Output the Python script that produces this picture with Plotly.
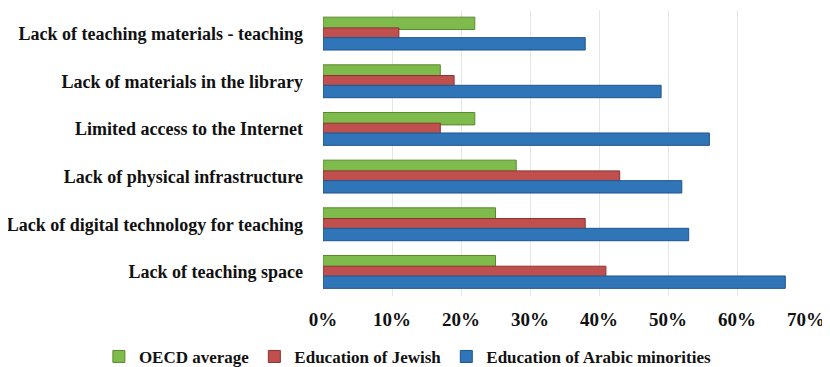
import plotly.graph_objects as go

categories = [
    "Lack of teaching materials - teaching",
    "Lack of materials in the library",
    "Limited access to the Internet",
    "Lack of physical infrastructure",
    "Lack of digital technology for teaching",
    "Lack of teaching space",
]
oecd = [0.22, 0.17, 0.22, 0.28, 0.25, 0.25]
jewish = [0.11, 0.19, 0.17, 0.43, 0.38, 0.41]
arabic = [0.38, 0.49, 0.56, 0.52, 0.53, 0.67]
x_ticks = [0, 0.1, 0.2, 0.3, 0.4, 0.5, 0.6, 0.7]
x_tick_labels = ["0%", "10%", "20%", "30%", "40%", "50%", "60%", "70%"]

FONT = "Liberation Serif"

series = [
    ("OECD average", oecd, "#7fba4c", "#578a2e", -0.35),
    ("Education of Jewish", jewish, "#c0504d", "#8c3230", -0.125),
    ("Education of Arabic minorities", arabic, "#2f75b8", "#1f5590", 0.08),
]

fig = go.Figure()
for name, vals, color, edge, off in series:
    fig.add_trace(go.Bar(
        y=categories, x=vals, name=name, orientation="h",
        width=0.26, offset=off,
        marker=dict(color=color, line=dict(color=edge, width=1)),
    ))

fig.update_layout(
    width=830, height=367,
    barmode="overlay",
    paper_bgcolor="white", plot_bgcolor="white",
    margin=dict(l=315, r=32, t=2, b=79, autoexpand=False),
    font=dict(family=FONT, size=15, color="#111111"),
    xaxis=dict(
        range=[0, 0.7], tickvals=x_ticks, ticktext=x_tick_labels,
        showgrid=True, gridcolor="#e6e6e6", gridwidth=1,
        zeroline=False, showline=False, ticks="",
        ticklabelstandoff=10, automargin=False,
        tickfont=dict(family=FONT, size=19, color="#111111", weight="bold"),
    ),
    yaxis=dict(
        autorange="reversed", showgrid=False, zeroline=False, ticks="",
        showline=False, ticklabelstandoff=19, automargin=False,
        tickfont=dict(family=FONT, size=18, color="#111111", weight="bold"),
    ),
    legend=dict(
        orientation="h", x=-0.464, xanchor="left", y=-0.213, yanchor="middle",
        font=dict(family=FONT, size=17, color="#111111", weight="bold"),
        itemwidth=30, tracegroupgap=0, traceorder="normal",
    ),
    showlegend=True,
)

fig.write_html("out.html")
